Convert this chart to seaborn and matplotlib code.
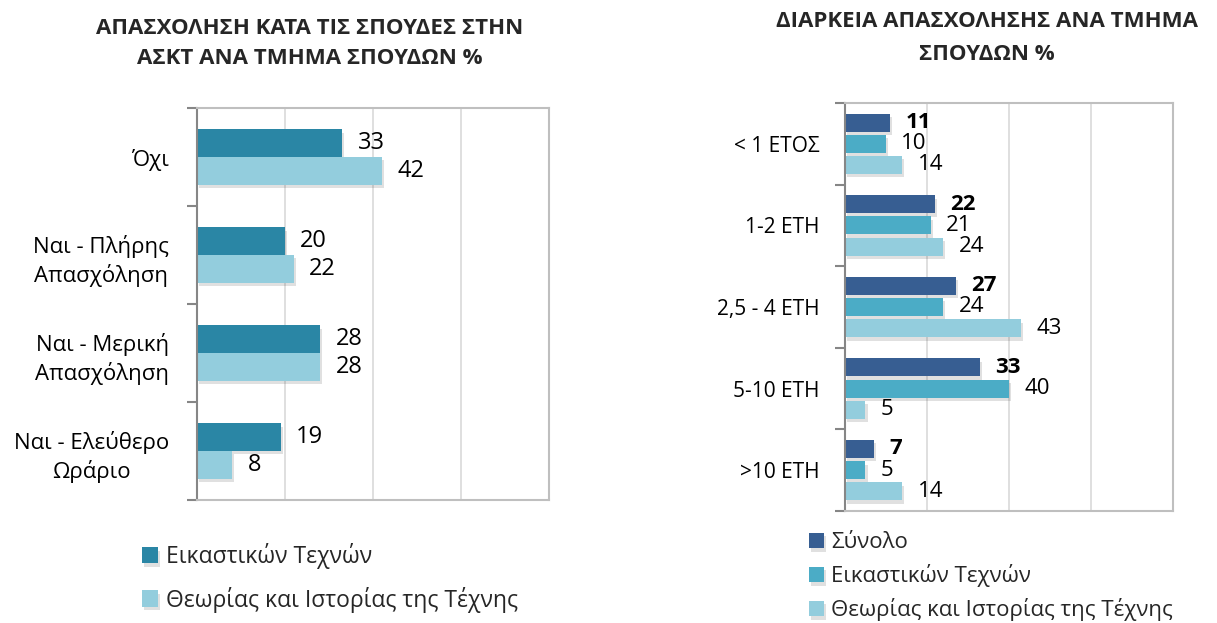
import matplotlib
matplotlib.use("Agg")
import matplotlib.pyplot as plt
import matplotlib.patheffects as pe
from matplotlib.ticker import FixedLocator, MultipleLocator
import seaborn as sns
import pandas as pd

# ---------------- data ----------------
left_categories = ["Όχι", "Ναι - Πλήρης\nΑπασχόληση", "Ναι - Μερική\nΑπασχόληση", "Ναι - Ελεύθερο\nΩράριο"]
left_series = ["Εικαστικών Τεχνών", "Θεωρίας και Ιστορίας της Τέχνης"]
left_eikastikon = [33, 20, 28, 19]
left_theorias = [42, 22, 28, 8]

right_categories = ["< 1 ΕΤΟΣ", "1-2 ΕΤΗ", "2,5 - 4 ΕΤΗ", "5-10 ΕΤΗ", ">10 ΕΤΗ"]
right_series = ["Σύνολο", "Εικαστικών Τεχνών", "Θεωρίας και Ιστορίας της Τέχνης"]
right_synolo = [11, 22, 27, 33, 7]
right_eikastikon = [10, 21, 24, 40, 5]
right_theorias = [14, 24, 43, 5, 14]

left_title = "ΑΠΑΣΧΟΛΗΣΗ ΚΑΤΑ ΤΙΣ ΣΠΟΥΔΕΣ ΣΤΗΝ\nΑΣΚΤ ΑΝΑ ΤΜΗΜΑ ΣΠΟΥΔΩΝ %"
right_title = "ΔΙΑΡΚΕΙΑ ΑΠΑΣΧΟΛΗΣΗΣ ΑΝΑ ΤΜΗΜΑ\nΣΠΟΥΔΩΝ %"

# ---------------- long tables ----------------
left_df = pd.DataFrame({
    "cat": left_categories * 2,
    "series": [left_series[0]] * len(left_categories) + [left_series[1]] * len(left_categories),
    "value": left_eikastikon + left_theorias,
})
right_df = pd.DataFrame({
    "cat": right_categories * 3,
    "series": ([right_series[0]] * len(right_categories) + [right_series[1]] * len(right_categories)
               + [right_series[2]] * len(right_categories)),
    "value": right_synolo + right_eikastikon + right_theorias,
})

sns.set_theme(style="white")
plt.rcParams["font.family"] = ["Open Sans", "DejaVu Sans"]

fig = plt.figure(figsize=(12.17, 6.23), dpi=100)

ax1 = fig.add_axes([0.1619, 0.1974, 0.2892, 0.6292])
ax2 = fig.add_axes([0.6943, 0.1798, 0.2695, 0.6549])

left_pal = ["#2A86A5", "#93CDDD"]
right_pal = ["#375E92", "#4BACC6", "#93CDDD"]

sns.barplot(data=left_df, y="cat", x="value", hue="series", palette=left_pal,
            orient="h", width=0.57, gap=0.0, ax=ax1, saturation=1, linewidth=0)
sns.barplot(data=right_df, y="cat", x="value", hue="series", palette=right_pal,
            orient="h", width=0.78, gap=0.15, ax=ax2, saturation=1, linewidth=0)

shadow = [pe.SimplePatchShadow(offset=(1.5, -2.5), alpha=0.15, shadow_rgbFace="#333333"), pe.Normal()]

def style_axes(ax, ncat, fs_tick):
    ax.set_xlim(0, 80)
    ax.set_ylim(ncat - 0.5, -0.5)
    ax.xaxis.set_major_locator(MultipleLocator(20))
    ax.set_xticklabels([])
    ax.tick_params(axis="x", length=0)
    ax.grid(axis="x", color="#D9D9D9", linewidth=1.2)
    ax.grid(axis="y", visible=False)
    ax.set_axisbelow(True)
    ax.set_xlabel("")
    ax.set_ylabel("")
    for s in ["top", "right", "bottom"]:
        ax.spines[s].set_color("#BFBFBF")
        ax.spines[s].set_linewidth(1.5)
    ax.spines["left"].set_color("#868686")
    ax.spines["left"].set_linewidth(1.5)
    ax.yaxis.set_minor_locator(FixedLocator([i - 0.5 for i in range(ncat + 1)]))
    ax.tick_params(axis="y", which="minor", left=True, length=7, width=1.5, color="#868686")
    ax.tick_params(axis="y", which="major", left=False, length=0, labelsize=fs_tick, colors="#000000")
    for patch in ax.patches:
        patch.set_path_effects(shadow)

style_axes(ax1, len(left_categories), 16)
style_axes(ax2, len(right_categories), 15)

ax1.tick_params(axis="y", which="major", pad=20)
ax2.tick_params(axis="y", which="major", pad=18)
for lab in ax1.get_yticklabels():
    lab.set_multialignment("center")
    lab.set_linespacing(1.35)

for c in ax1.containers:
    ax1.bar_label(c, padding=11, fontsize=17, color="#000000")
for i, c in enumerate(ax2.containers):
    ax2.bar_label(c, padding=11, fontsize=16, color="#000000",
                  fontweight="bold" if i == 0 else "normal")

# legends
h1, l1 = ax1.get_legend_handles_labels()
ax1.get_legend().remove()
h2, l2 = ax2.get_legend_handles_labels()
ax2.get_legend().remove()

fig.legend(h1, l1, loc="upper left", bbox_to_anchor=(0.100, 0.161), frameon=False,
           fontsize=16.5, handlelength=0.7, handleheight=0.7, handletextpad=0.35,
           labelspacing=0.75)
fig.legend(h2, l2, loc="upper left", bbox_to_anchor=(0.648, 0.178), frameon=False,
           fontsize=16, handlelength=0.7, handleheight=0.7, handletextpad=0.3,
           labelspacing=0.5)

fig.text(0.2547, 0.930, left_title, ha="center", va="center", fontsize=16,
         fontweight="bold", linespacing=1.6)
fig.text(0.811, 0.939, right_title, ha="center", va="center", fontsize=16,
         fontweight="bold", linespacing=1.75)

fig.savefig("out.png", dpi=100)
